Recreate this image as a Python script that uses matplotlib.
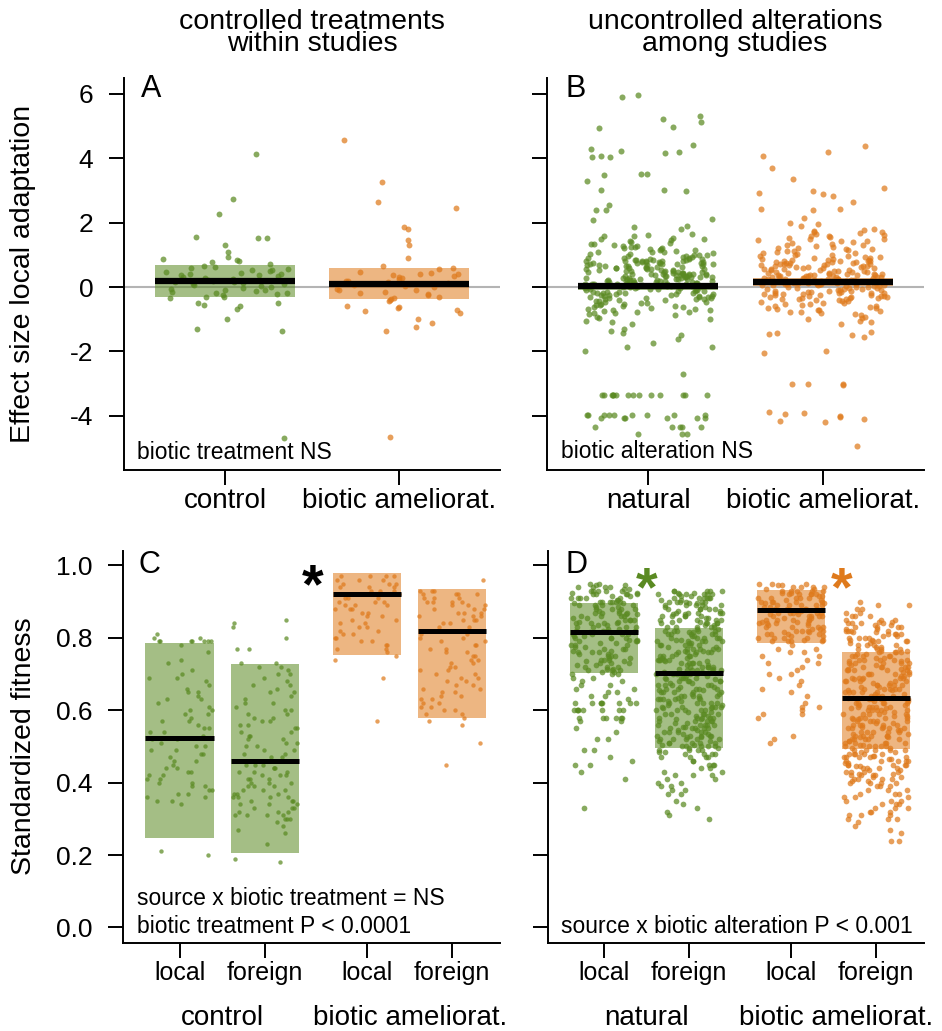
import numpy as np
import matplotlib
matplotlib.use("Agg")
import matplotlib.pyplot as plt
from matplotlib.patches import Rectangle

plt.rcParams['font.family'] = ['Liberation Sans', 'DejaVu Sans']
plt.rcParams['axes.unicode_minus'] = False

GREEN = '#5a8a22'
ORANGE = '#df7a1c'

# ---------------- data ----------------
# Panel A (effect size, controlled treatments)
A_categories = ["control", "biotic ameliorat."]
A_control = [4.12, 2.72, 2.28, 1.55, 1.53, 1.52, 1.32, 1.08, 0.92, 0.88, 0.85, 0.82, 0.78, 0.72, 0.65,
             0.62, 0.58, 0.55, 0.54, 0.52, 0.5, 0.48, 0.45, 0.42, 0.4, 0.38, 0.36, 0.33, 0.3, 0.28, 0.25,
             0.22, 0.2, 0.17, 0.15, 0.12, 0.1, 0.08, 0.05, 0.03, 0.0, -0.02, -0.05, -0.08, -0.1, -0.12,
             -0.15, -0.18, -0.2, -0.22, -0.25, -0.3, -0.32, -0.35, -0.48, -0.5, -0.55, -0.58, -0.68,
             -0.98, -1.3, -1.36, -4.68]
A_biotic = [4.55, 3.25, 2.65, 2.45, 1.85, 1.8, 1.45, 1.3, 0.9, 0.65, 0.6, 0.55, 0.48, 0.45, 0.42, 0.4,
            0.38, 0.35, 0.3, 0.28, 0.25, 0.2, 0.18, 0.15, 0.12, 0.1, 0.05, 0.02, 0.0, -0.05, -0.08, -0.1,
            -0.15, -0.2, -0.22, -0.25, -0.3, -0.35, -0.38, -0.4, -0.42, -0.6, -0.62, -0.65, -0.72, -0.75,
            -0.82, -1.0, -1.12, -1.25, -1.35, -4.65]
A_box_lo = [-0.31, -0.37]
A_box_hi = [0.68, 0.59]
A_median = [0.19, 0.09]

# Panel B (effect size, uncontrolled alterations), values in hundredths
B_categories = ["natural", "biotic ameliorat."]
B_natural_h = [595, 590, 530, 522, 512, 497, 495, 442, 430, 422, 420, 415, 406, 405, 404, 351, 350, 348,
               330, 302, 300, 298, 255, 240, 238, 210, 208, 190, 185, 180,
               166, 162, 158, 157, 153, 150, 148, 146, 143, 141, 137, 135, 134, 131, 128, 127, 125, 123, 121, 120,
               119, 117, 116, 115, 112, 110, 109, 108, 105, 104, 102, 100, 99, 98, 96, 95, 93, 92, 91, 90,
               89, 88, 87, 86, 85, 84, 83, 83, 82, 81, 81, 80, 80, 80,
               79, 78, 77, 77, 76, 75, 75, 74, 73, 72, 71, 70, 70, 69, 68, 67, 66, 66, 65, 64, 63, 62, 61,
               60, 60, 59, 58, 57, 57, 56, 55, 54, 53, 52, 51, 50, 50, 49, 48, 47, 47, 46, 45, 44, 43, 42,
               41, 41, 40, 40,
               39, 39, 38, 37, 37, 36, 36, 35, 34, 34, 33, 32, 32, 31, 30, 30, 29, 28, 28, 27, 26, 26, 25,
               24, 24, 23, 22, 22, 21, 20, 20, 19, 18, 18, 17, 16, 16, 15, 14, 14, 13, 12, 12, 11, 10, 10,
               9, 8, 8, 7, 6, 6, 5, 4, 4, 3, 2, 2, 1, 0, 0, 0,
               -1, -2, -3, -4, -5, -6, -7, -8, -9, -10, -11, -12, -13, -14, -15, -16, -17, -18, -19, -20,
               -21, -22, -23, -24, -25, -26, -27, -28, -29, -30, -31, -32, -33, -34, -35, -36, -37, -38,
               -39, -40,
               -42, -44, -45, -47, -48, -50, -52, -53, -55, -57, -58, -60, -62, -63, -65, -67, -68, -70,
               -72, -74, -76, -78, -80,
               -82, -85, -88, -92, -95, -100, -105, -110, -115,
               -130, -135, -143, -150, -160, -175, -185, -185, -200, -270,
               -334, -334, -334, -334, -334, -334, -334, -334, -334, -334, -334, -334, -334, -334,
               -398, -398, -398, -398, -398, -398, -398, -398, -398,
               -408, -408, -408, -408, -408, -408,
               -435, -435, -435, -435, -435, -455, -455, -455]
B_biotic_h = [439, 418, 407, 371, 335, 309, 298, 293, 288, 283, 265, 241, 241, 240, 215, 200, 195, 190,
              180, 178, 175, 172, 170, 167, 165, 162, 160, 158, 155, 152, 150, 148, 146, 144, 142, 140,
              138, 135, 132, 130, 128, 125, 122, 120,
              119, 117, 115, 113, 111, 109, 107, 105, 103, 101, 99, 97, 95, 93, 92, 91, 89, 88, 86, 85,
              84, 83, 82, 81, 80, 80,
              79, 78, 77, 76, 75, 74, 73, 72, 71, 70, 69, 68, 67, 66, 65, 64, 63, 62, 61, 60, 59, 58, 57,
              56, 55, 54, 53, 52, 51, 50, 49, 48, 47, 46, 45, 44, 43, 42, 41, 40,
              39, 38, 38, 37, 36, 36, 35, 34, 34, 33, 32, 32, 31, 30, 30, 29, 28, 28, 27, 26, 26, 25, 24,
              24, 23, 22, 22, 21, 20, 20, 19, 18, 18, 17, 16, 16, 15, 14, 14, 13, 12, 12, 11, 10, 10, 9,
              8, 8, 7, 6, 6, 5, 4, 3, 2, 1, 0,
              -1, -2, -3, -4, -5, -6, -7, -8, -9, -10, -11, -12, -13, -14, -15, -16, -17, -18, -19, -20,
              -21, -22, -23, -24, -25, -26, -27, -28, -29, -30, -31, -32, -33, -34, -35, -36, -37, -38,
              -39, -40,
              -42, -44, -46, -48, -50, -52, -54, -56, -58, -60, -62, -64, -66, -68, -70, -72, -74, -76,
              -78, -80,
              -84, -88, -92, -96, -100, -105, -110, -115,
              -140, -142, -145, -150, -155, -200, -206, -300, -300, -302, -305, -388, -390, -395, -400,
              -405, -410, -415, -419, -492]
B_box_lo = [-0.08, 0.04]
B_box_hi = [0.14, 0.28]
B_median = [0.03, 0.16]

# Panel C (standardized fitness, controlled treatments)
C_sources = ["local", "foreign", "local", "foreign"]
C_groups = ["control", "biotic ameliorat."]
C_ctrl_local = [0.81, 0.80, 0.80, 0.79, 0.79, 0.79, 0.79, 0.79, 0.79, 0.79, 0.78, 0.76, 0.74, 0.73, 0.71,
                0.70, 0.69, 0.69, 0.68, 0.67, 0.66, 0.65, 0.65, 0.64, 0.63, 0.63, 0.62, 0.61, 0.60, 0.60,
                0.59, 0.59, 0.58, 0.57, 0.57, 0.56, 0.55, 0.55, 0.54, 0.54, 0.53, 0.52, 0.52, 0.51, 0.50,
                0.50, 0.49, 0.49, 0.48, 0.48, 0.47, 0.46, 0.46, 0.45, 0.44, 0.44, 0.43, 0.43, 0.42, 0.42,
                0.41, 0.41, 0.40, 0.40, 0.39, 0.39, 0.38, 0.38, 0.37, 0.37, 0.36, 0.36, 0.35, 0.35, 0.34,
                0.21, 0.20]
C_ctrl_foreign = [0.85, 0.84, 0.83, 0.80, 0.77, 0.77, 0.73, 0.73, 0.72, 0.72, 0.71, 0.70, 0.70, 0.69,
                  0.68, 0.67, 0.67, 0.66, 0.65, 0.65, 0.64, 0.63, 0.62, 0.62, 0.61, 0.60, 0.60, 0.59, 0.59,
                  0.58, 0.58, 0.57, 0.57, 0.56, 0.56, 0.55, 0.55, 0.54, 0.54, 0.53, 0.53, 0.52, 0.52, 0.51,
                  0.51, 0.50, 0.50, 0.49, 0.49, 0.48, 0.48, 0.47, 0.47, 0.46, 0.46, 0.45, 0.45, 0.45, 0.44,
                  0.44, 0.44, 0.43, 0.43, 0.43, 0.42, 0.42, 0.42, 0.41, 0.41, 0.41, 0.40, 0.40, 0.40, 0.39,
                  0.39, 0.39, 0.38, 0.38, 0.38, 0.37, 0.37, 0.37, 0.36, 0.36, 0.36, 0.36, 0.35, 0.35, 0.35,
                  0.34, 0.34, 0.34, 0.33, 0.33, 0.33, 0.32, 0.32, 0.32, 0.31, 0.31, 0.31, 0.31, 0.30, 0.30,
                  0.30, 0.29, 0.28, 0.27, 0.26, 0.23, 0.19, 0.18]
C_bio_local = [0.97, 0.97, 0.97, 0.97, 0.96, 0.96, 0.96, 0.95, 0.95, 0.95, 0.94, 0.94, 0.94, 0.93, 0.93,
               0.93, 0.92, 0.92, 0.92, 0.91, 0.91, 0.91, 0.90, 0.90, 0.90, 0.89, 0.89, 0.89, 0.88, 0.88,
               0.88, 0.87, 0.87, 0.86, 0.86, 0.85, 0.85, 0.84, 0.84, 0.83, 0.83, 0.82, 0.82, 0.81, 0.81,
               0.80, 0.80, 0.79, 0.79, 0.78, 0.78, 0.77, 0.77, 0.76, 0.75, 0.74, 0.69, 0.57]
C_bio_foreign = [0.96, 0.93, 0.93, 0.93, 0.92, 0.92, 0.92, 0.92, 0.91, 0.91, 0.91, 0.90, 0.90, 0.90, 0.90,
                 0.89, 0.89, 0.89, 0.88, 0.88, 0.88, 0.87, 0.87, 0.87, 0.86, 0.86, 0.86, 0.85, 0.85, 0.85,
                 0.84, 0.84, 0.83, 0.83, 0.82, 0.82, 0.81, 0.81, 0.80, 0.80, 0.79, 0.79, 0.78, 0.78, 0.77,
                 0.77, 0.76, 0.76, 0.75, 0.75, 0.74, 0.74, 0.73, 0.73, 0.72, 0.72, 0.71, 0.71, 0.70, 0.70,
                 0.69, 0.69, 0.68, 0.68, 0.67, 0.67, 0.66, 0.66, 0.65, 0.65, 0.64, 0.64, 0.63, 0.63, 0.62,
                 0.62, 0.61, 0.61, 0.60, 0.60, 0.59, 0.59, 0.58, 0.57, 0.56, 0.51, 0.45]
C_box_lo = [0.246, 0.207, 0.754, 0.580]
C_box_hi = [0.785, 0.729, 0.978, 0.936]
C_median = [0.522, 0.459, 0.920, 0.818]

# Panel D (standardized fitness, uncontrolled alterations), values in hundredths
D_sources = ["local", "foreign", "local", "foreign"]
D_groups = ["natural", "biotic ameliorat."]
D_nat_local_h = [95, 95, 94, 94, 94, 94, 93, 93, 93, 93, 93, 92, 92, 92, 92, 92, 91, 91, 91, 91, 91,
                 90, 90, 90, 90, 90, 90,
                 89, 89, 89, 89, 88, 88, 88, 88, 87, 87, 87, 87, 86, 86, 86, 86, 85, 85, 85, 85, 84, 84,
                 84, 84, 83, 83, 83, 83, 82, 82, 82, 82, 81, 81, 81, 81, 80, 80, 80, 80,
                 79, 79, 79, 78, 78, 78, 77, 77, 77, 76, 76, 76, 75, 75, 75, 74, 74, 74, 73, 73, 73, 72,
                 72, 72, 71, 71, 71, 70, 70, 70,
                 94.5, 94.5, 93.5, 93.5, 92.5, 92.5, 91.5, 91.5, 90.5, 90.5, 89.5, 89.5, 88.5, 88.5,
                 87.5, 87.5, 86.5, 86.5, 85.5, 85.5, 84.5, 84.5, 83.5, 83.5, 82.5, 82.5, 81.5, 81.5,
                 80.5, 80.5, 79.5, 79.5, 78.5, 78.5, 77.5, 77.5, 76.5, 76.5, 75.5, 75.5, 74.5, 74.5,
                 73.5, 73.5, 72.5, 72.5, 71.5, 71.5, 70.5, 70.5,
                 69, 69, 68, 68, 67, 67, 66, 66, 65, 65, 64, 64, 63,
                 62, 62, 62, 62, 62, 62, 62, 62, 60, 60, 60, 60, 60, 60, 60, 60, 58, 58, 58, 58, 58, 58,
                 57, 57,
                 55, 54, 52, 52, 49, 49, 47, 46, 45, 45, 43, 41, 33]
D_nat_foreign_h = [93, 93, 93, 93, 93, 92, 92, 92, 92, 92, 92, 91, 91, 91, 91, 91, 91, 90, 90, 90, 90, 90, 90,
                   89, 89, 89, 89, 89, 88, 88, 88, 88, 88, 87, 87, 87, 87, 87, 86, 86, 86, 86, 86,
                   85, 85, 85, 85, 85, 84, 84, 84, 84, 84, 83, 83, 83, 83, 83, 82, 82, 82, 82, 82,
                   81, 81, 81, 81, 81, 80, 80, 80, 80, 80, 79, 79, 79, 79, 79, 78, 78, 78, 78, 78,
                   77, 77, 77, 77, 77, 76, 76, 76, 76, 76, 75, 75, 75, 75, 75, 74, 74, 74, 74, 74,
                   73, 73, 73, 73, 73, 72, 72, 72, 72, 72, 71, 71, 71, 71, 71, 70, 70, 70, 70, 70,
                   69, 69, 69, 69, 69, 68, 68, 68, 68, 68, 67, 67, 67, 67, 67, 66, 66, 66, 66, 66,
                   65, 65, 65, 65, 65, 64, 64, 64, 64, 64, 63, 63, 63, 63, 63, 62, 62, 62, 62, 62,
                   61, 61, 61, 61, 61, 60, 60, 60, 60, 60, 59, 59, 59, 59, 59, 58, 58, 58, 58, 58,
                   57, 57, 57, 57, 57, 56, 56, 56, 56, 56, 55, 55, 55, 55, 55, 54, 54, 54, 54, 54,
                   53, 53, 53, 53, 53, 52, 52, 52, 52, 52, 51, 51, 51, 51, 51, 50, 50, 50, 50, 50,
                   92.5, 92.5, 91.5, 91.5, 90.5, 90.5, 89.5, 89.5, 88.5, 88.5, 87.5, 87.5, 86.5, 86.5,
                   85.5, 85.5, 84.5, 84.5, 83.5, 83.5, 82.5, 82.5, 81.5, 81.5, 80.5, 80.5, 79.5, 79.5,
                   78.5, 78.5, 77.5, 77.5, 76.5, 76.5, 75.5, 75.5, 74.5, 74.5, 73.5, 73.5, 72.5, 72.5,
                   71.5, 71.5, 70.5, 70.5, 69.5, 69.5, 68.5, 68.5, 67.5, 67.5, 66.5, 66.5, 65.5, 65.5,
                   64.5, 64.5, 63.5, 63.5, 62.5, 62.5, 61.5, 61.5, 60.5, 60.5, 59.5, 59.5, 58.5, 58.5,
                   57.5, 57.5, 56.5, 56.5, 55.5, 55.5, 54.5, 54.5, 53.5, 53.5, 52.5, 52.5, 51.5, 51.5,
                   50.5, 50.5, 49.5, 49.5, 48.5, 48.5,
                   49, 49, 49, 49, 48, 48, 48, 48, 47, 47, 47, 47,
                   46, 46, 45, 45, 45, 44, 44, 43, 43, 42, 42, 42, 41, 41, 40, 40, 39, 39, 38, 38, 37, 37,
                   35, 34, 33, 32, 31, 30]
D_bio_local_h = [95, 95, 95, 94, 94, 94, 94, 93, 93, 93, 93, 93, 92, 92, 92, 92, 92,
                 91, 91, 91, 91, 91, 90, 90, 90, 90, 90, 89, 89, 89, 89, 89, 88, 88, 88, 88, 88,
                 87, 87, 87, 87, 87, 86, 86, 86, 86, 86, 85, 85, 85, 85, 85,
                 84, 84, 84, 84, 83, 83, 83, 83, 82, 82, 82, 82, 81, 81, 81, 81, 80, 80, 80, 80,
                 79, 79, 79, 79,
                 94.5, 94.5, 93.5, 93.5, 92.5, 92.5, 91.5, 91.5, 90.5, 90.5, 89.5, 89.5, 88.5, 88.5,
                 87.5, 87.5, 86.5, 86.5, 85.5, 85.5, 84.5, 84.5, 83.5, 83.5, 82.5, 82.5, 81.5, 81.5,
                 80.5, 80.5, 79.5, 79.5,
                 78, 77, 77, 76, 76, 75, 75, 74, 73, 73, 72, 71, 70, 70, 69, 68, 67, 66, 65, 64,
                 62, 61, 61, 60, 59, 59, 58, 53, 52, 51]
D_bio_foreign_h = [90, 89, 89, 88, 88, 87, 87, 86, 86, 86, 85, 85, 85,
                   84, 84, 84, 84, 83, 83, 83, 83, 82, 82, 82, 82, 81, 81, 81, 81, 80, 80, 80, 80,
                   79, 79, 79, 79, 78, 78, 78, 78, 77, 77, 77, 77, 76, 76, 76, 76,
                   75, 75, 75, 75, 75, 74, 74, 74, 74, 74, 73, 73, 73, 73, 73, 72, 72, 72, 72, 72,
                   71, 71, 71, 71, 71, 70, 70, 70, 70, 70, 69, 69, 69, 69, 69, 68, 68, 68, 68, 68,
                   67, 67, 67, 67, 67, 66, 66, 66, 66, 66, 65, 65, 65, 65, 65, 64, 64, 64, 64, 64,
                   63, 63, 63, 63, 63, 62, 62, 62, 62, 62, 61, 61, 61, 61, 61, 60, 60, 60, 60, 60,
                   59, 59, 59, 59, 59, 58, 58, 58, 58, 58, 57, 57, 57, 57, 57, 56, 56, 56, 56, 56,
                   55, 55, 55, 55, 55, 54, 54, 54, 54, 54, 53, 53, 53, 53, 53, 52, 52, 52, 52, 52,
                   51, 51, 51, 51, 51, 50, 50, 50, 50, 50, 49, 49, 49, 49, 49, 48, 48, 48, 48, 48,
                   47, 47, 47, 47, 47, 46, 46, 46, 46, 46, 45, 45, 45, 45, 45,
                   84.5, 84.5, 83.5, 83.5, 82.5, 82.5, 81.5, 81.5, 80.5, 80.5, 79.5, 79.5, 78.5, 78.5,
                   77.5, 77.5, 76.5, 76.5, 75.5, 75.5, 74.5, 74.5, 73.5, 73.5, 72.5, 72.5, 71.5, 71.5,
                   70.5, 70.5, 69.5, 69.5, 68.5, 68.5, 67.5, 67.5, 66.5, 66.5, 65.5, 65.5, 64.5, 64.5,
                   63.5, 63.5, 62.5, 62.5, 61.5, 61.5, 60.5, 60.5, 59.5, 59.5, 58.5, 58.5, 57.5, 57.5,
                   56.5, 56.5, 55.5, 55.5, 54.5, 54.5, 53.5, 53.5, 52.5, 52.5, 51.5, 51.5, 50.5, 50.5,
                   49.5, 49.5, 48.5, 48.5, 47.5, 47.5, 46.5, 46.5, 45.5, 45.5, 44.5, 44.5, 43.5, 43.5,
                   42.5, 42.5, 41.5, 41.5, 40.5, 40.5,
                   44, 44, 44, 44, 43, 43, 43, 43, 42, 42, 42, 42, 41, 41, 41, 41, 40, 40, 40, 40,
                   39, 39, 39, 38, 38, 38, 37, 37, 37, 36, 36, 36, 35, 35, 35, 34, 34, 34, 33, 33, 33,
                   32, 32, 32, 31, 31, 31, 30, 30, 30,
                   29, 28, 27, 26, 24, 24]
D_box_lo = [0.702, 0.497, 0.787, 0.494]
D_box_hi = [0.895, 0.826, 0.931, 0.760]
D_median = [0.815, 0.704, 0.876, 0.635]

# ---------------- figure ----------------
W, H = 942, 1031
fig = plt.figure(figsize=(W / 100, H / 100), dpi=100)


def px_axes(l, r, t, b):
    return fig.add_axes([l / W, 1 - b / H, (r - l) / W, (b - t) / H])


def ftext(x, y, s, **kw):
    fig.text(x / W, 1 - y / H, s, **kw)


def style(ax):
    for side in ('top', 'right'):
        ax.spines[side].set_visible(False)
    for side in ('left', 'bottom'):
        ax.spines[side].set_linewidth(1.4)
    ax.tick_params(direction='out', length=11, width=1.4, color='black')
    ax.tick_params(axis='y', pad=11, labelsize=19)
    ax.tick_params(axis='x', pad=2)


def jitter(n, hw, seed):
    # deterministic hash-based horizontal jitter (position only)
    k = np.arange(n) + 1.0
    frac = (np.sin(k * 12.9898 + seed * 78.233) * 43758.5453) % 1.0
    return (frac - 0.5) * 2 * hw


def draw_group(ax, x, vals, lo, hi, med, col, s, hw_pts, med_lw, seed, box_hw=0.4):
    ax.add_patch(Rectangle((x - box_hw, lo), 2 * box_hw, hi - lo, facecolor=col,
                           alpha=0.55, lw=0, zorder=1))
    v = np.asarray(vals, dtype=float)
    ax.scatter(x + jitter(len(v), hw_pts, seed), v, s=s, color=col, alpha=0.72,
               lw=0, zorder=2)
    ax.hlines(med, x - box_hw, x + box_hw, color='black', lw=med_lw, zorder=3)


axA = px_axes(124, 500, 78, 470)
axB = px_axes(547, 924, 78, 470)
axC = px_axes(123, 500, 551, 943)
axD = px_axes(548, 924, 551, 943)

# ---- top panels ----
seed = 0
for ax, groups, data, lo, hi, med, ssz in [
        (axA, A_categories, [A_control, A_biotic], A_box_lo, A_box_hi, A_median, 18),
        (axB, B_categories, [np.array(B_natural_h) / 100, np.array(B_biotic_h) / 100],
         B_box_lo, B_box_hi, B_median, 19)]:
    style(ax)
    ax.axhline(0, color='#b4b4b4', lw=1.5, zorder=0.5)
    for i, (vals, col) in enumerate(zip(data, [GREEN, ORANGE])):
        seed += 1
        draw_group(ax, i + 1, vals, lo[i], hi[i], med[i], col, ssz, 0.37, 4.5, seed)
    ax.set_xlim(0.42, 2.58)
    ax.set_ylim(-5.68, 6.49)
    ax.set_yticks([-4, -2, 0, 2, 4, 6])
    ax.set_xticks([1, 2])
    ax.set_xticklabels(groups, fontsize=20)
axB.set_yticklabels([])

# ---- bottom panels ----
positions = [1, 2, 3.2, 4.2]
C_data = [C_ctrl_local, C_ctrl_foreign, C_bio_local, C_bio_foreign]
D_data = [np.array(D_nat_local_h) / 100, np.array(D_nat_foreign_h) / 100,
          np.array(D_bio_local_h) / 100, np.array(D_bio_foreign_h) / 100]
cols = [GREEN, GREEN, ORANGE, ORANGE]
for ax, data, lo, hi, med, srcs, ssz in [
        (axC, C_data, C_box_lo, C_box_hi, C_median, C_sources, 10),
        (axD, D_data, D_box_lo, D_box_hi, D_median, D_sources, 17)]:
    style(ax)
    for i in range(4):
        seed += 1
        draw_group(ax, positions[i], data[i], lo[i], hi[i], med[i], cols[i], ssz, 0.39, 3.6, seed)
    ax.set_xlim(0.336, 4.764)
    ax.set_ylim(-0.043, 1.04)
    ax.set_yticks([0.0, 0.2, 0.4, 0.6, 0.8, 1.0])
    ax.set_yticklabels(['0.0', '0.2', '0.4', '0.6', '0.8', '1.0'], fontsize=19)
    ax.set_xticks(positions)
    ax.set_xticklabels(srcs, fontsize=18)
axD.set_yticklabels([])

# ---- text ----
ftext(312, 9, "controlled treatments\nwithin studies", ha='center', va='top',
      multialignment='center', linespacing=0.8, fontsize=20.5)
ftext(735, 9, "uncontrolled alterations\namong studies", ha='center', va='top',
      multialignment='center', linespacing=0.8, fontsize=20.5)

ftext(23, 274, "Effect size local adaptation", ha='center', va='center', rotation=90, fontsize=20.5)
ftext(24, 746, "Standardized fitness", ha='center', va='center', rotation=90, fontsize=20.5)

ftext(141, 97, "A", ha='left', va='baseline', fontsize=22)
ftext(566, 97, "B", ha='left', va='baseline', fontsize=22)
ftext(139, 573, "C", ha='left', va='baseline', fontsize=22)
ftext(565, 573, "D", ha='left', va='baseline', fontsize=22)

ftext(137, 459, "biotic treatment NS", ha='left', va='baseline', fontsize=16.5)
ftext(561, 458, "biotic alteration NS", ha='left', va='baseline', fontsize=16.5)
ftext(137, 905, "source x biotic treatment = NS", ha='left', va='baseline', fontsize=16.5)
ftext(137, 933, "biotic treatment P < 0.0001", ha='left', va='baseline', fontsize=16.5)
ftext(561, 933, "source x biotic alteration P < 0.001", ha='left', va='baseline', fontsize=16.5)

ftext(222, 1025, C_groups[0], ha='center', va='baseline', fontsize=20)
ftext(410, 1025, C_groups[1], ha='center', va='baseline', fontsize=20)
ftext(647, 1025, D_groups[0], ha='center', va='baseline', fontsize=20)
ftext(836, 1025, D_groups[1], ha='center', va='baseline', fontsize=20)

ftext(313, 602, "*", ha='center', va='baseline', fontsize=40, fontweight='bold', color='black')
ftext(647, 605, "*", ha='center', va='baseline', fontsize=40, fontweight='bold', color=GREEN)
ftext(842, 605, "*", ha='center', va='baseline', fontsize=40, fontweight='bold', color=ORANGE)

fig.savefig("out.png", dpi=100)
